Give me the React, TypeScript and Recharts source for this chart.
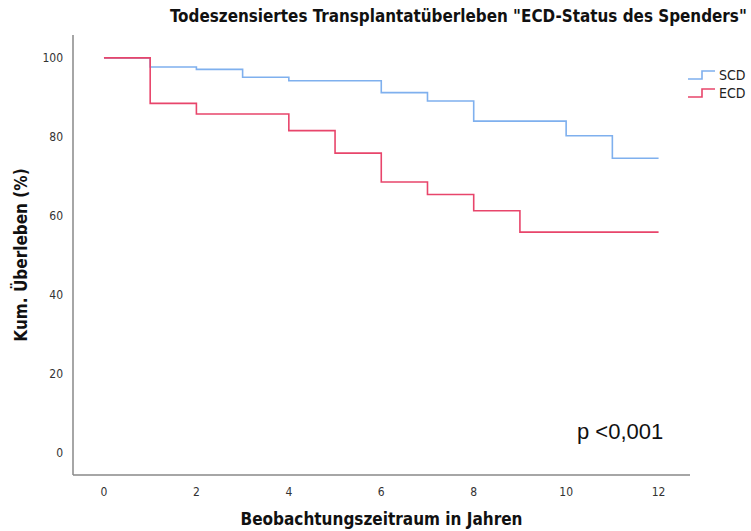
import React from "react";
import { LineChart, Line, XAxis, YAxis, Label } from "recharts";

// Kaplan-Meier estimates (cumulative graft survival, %) per donor group
const scdYears = [0, 1, 2, 3, 4, 6, 7, 8, 10, 11, 12];
const scdSurvival = [100, 97.7, 97.1, 95.1, 94.2, 91.2, 89.1, 84.0, 80.3, 74.6, 74.6];
const ecdYears = [0, 1, 2, 4, 5, 6, 7, 8, 9, 12];
const ecdSurvival = [100, 88.5, 85.8, 81.6, 75.9, 68.6, 65.4, 61.3, 55.9, 55.9];

const xTicks = [0, 2, 4, 6, 8, 10, 12];
const yTicks = [0, 20, 40, 60, 80, 100];

const titleText = 'Todeszensiertes Transplantatüberleben "ECD-Status des Spenders"';
const xLabel = "Beobachtungszeitraum in Jahren";
const yLabel = "Kum. Überleben (%)";
const pValue = "p <0,001";

const SCD_COLOR = "#7fb0ee";
const ECD_COLOR = "#e8456b";
const FONT = "'Liberation Sans Narrow', 'DejaVu Sans Condensed', sans-serif";

const scdData = scdYears.map((t, i) => ({ t, s: scdSurvival[i] }));
const ecdData = ecdYears.map((t, i) => ({ t, s: ecdSurvival[i] }));

const legendItems = [
  { name: "SCD", color: SCD_COLOR },
  { name: "ECD", color: ECD_COLOR },
];

function StepLegend() {
  return (
    <div style={{ position: "absolute", left: 687, top: 66, fontFamily: FONT, fontSize: 14, color: "#222" }}>
      {legendItems.map((it) => (
        <div key={it.name} style={{ display: "flex", alignItems: "center", height: 18 }}>
          <svg width={30} height={14} style={{ marginRight: 2 }}>
            <path d="M1 11 H15 V3 H28" fill="none" stroke={it.color} strokeWidth={1.6} />
          </svg>
          <span>{it.name}</span>
        </div>
      ))}
    </div>
  );
}

export default function App() {
  const tickStyle = { fontFamily: FONT, fontSize: 12, fill: "#333" };
  return (
    <div style={{ position: "absolute", left: 0, top: 0, width: 751, height: 531, background: "#fff" }}>
      <div
        style={{
          position: "absolute",
          left: 170,
          top: 6,
          width: 580,
          fontFamily: FONT,
          fontWeight: "bold",
          fontSize: 16.9,
          color: "#111",
          whiteSpace: "nowrap",
        }}
      >
        {titleText}
      </div>
      <LineChart width={751} height={531} margin={{ top: 35, right: 61, left: 0, bottom: 0 }}>
        <XAxis
          type="number"
          dataKey="t"
          domain={[-0.67, 12.68]}
          ticks={xTicks}
          tickLine={false}
          axisLine={{ stroke: "#888", strokeWidth: 1.5 }}
          tick={tickStyle}
          height={56}
          tickMargin={6}
          allowDuplicatedCategory={false}
        >
          <Label
            value={xLabel}
            position="insideBottom"
            offset={6}
            style={{ fontFamily: FONT, fontWeight: "bold", fontSize: 17, fill: "#111" }}
          />
        </XAxis>
        <YAxis
          type="number"
          dataKey="s"
          domain={[-5.6, 105.8]}
          ticks={yTicks}
          tickLine={false}
          axisLine={{ stroke: "#888", strokeWidth: 1.5 }}
          tick={tickStyle}
          width={73}
          tickMargin={4}
        >
          <Label
            value={yLabel}
            angle={-90}
            position="insideLeft"
            offset={21}
            style={{ textAnchor: "middle", fontFamily: FONT, fontWeight: "bold", fontSize: 17, fill: "#111" }}
          />
        </YAxis>
        <Line
          data={scdData}
          dataKey="s"
          type="stepAfter"
          stroke={SCD_COLOR}
          strokeWidth={1.6}
          dot={false}
          isAnimationActive={false}
        />
        <Line
          data={ecdData}
          dataKey="s"
          type="stepAfter"
          stroke={ECD_COLOR}
          strokeWidth={1.6}
          dot={false}
          isAnimationActive={false}
        />
      </LineChart>
      <StepLegend />
      <div
        style={{
          position: "absolute",
          left: 577,
          top: 419,
          fontFamily: "'Liberation Sans', Arial, sans-serif",
          fontSize: 22,
          color: "#111",
        }}
      >
        {pValue}
      </div>
    </div>
  );
}
